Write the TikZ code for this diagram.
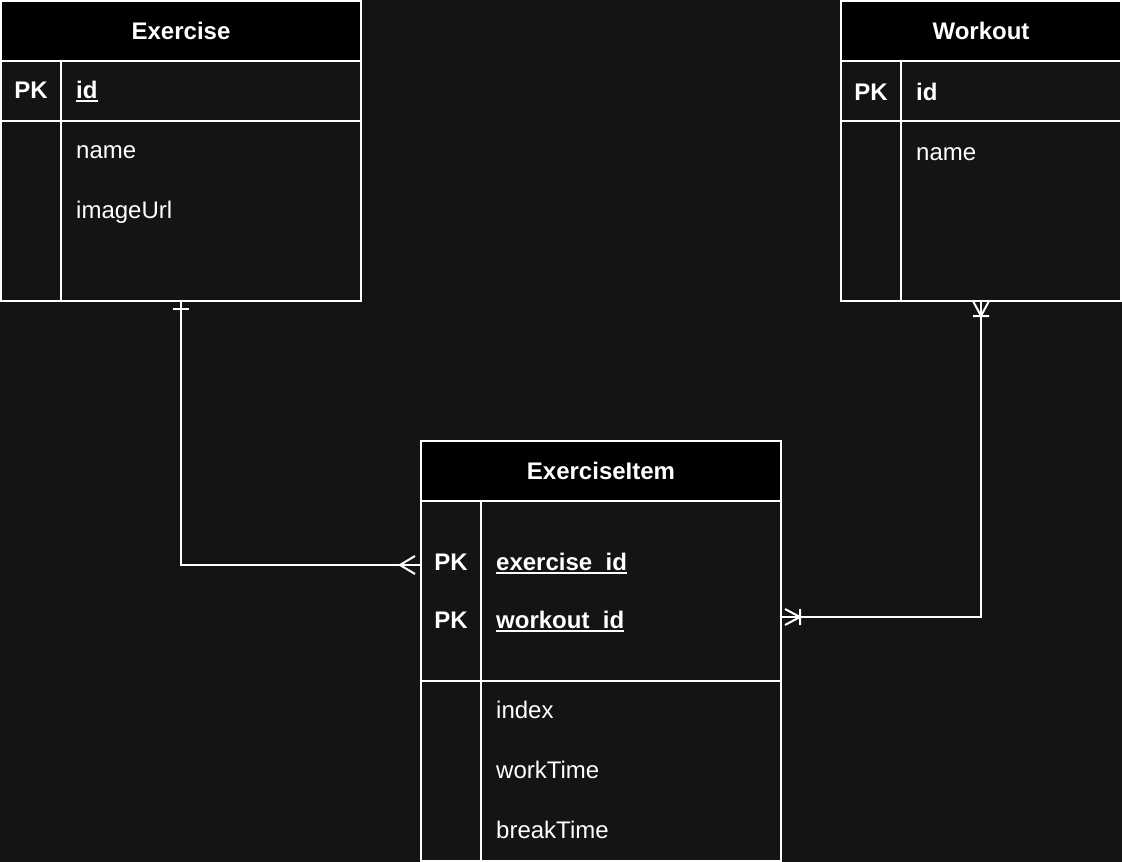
\documentclass[tikz,border=0pt]{standalone}
\usepackage{fontspec}
\setmainfont{Liberation Sans}
\usepackage{tikz}
\usetikzlibrary{positioning,arrows.meta}
\usepackage{xcolor}
\definecolor{bg}{HTML}{141414}
\newcommand{\keyul}[1]{\setbox0\hbox{#1}\rlap{\rule[-3.5pt]{\wd0}{1.8pt}}\box0}

\begin{document}
\begin{tikzpicture}[x=1pt,y=-1pt,
  cell/.style={draw=white,line width=2pt,outer sep=0pt,inner sep=0pt,rectangle},
  head/.style={cell,fill=black,text=white,font=\bfseries\fontsize{24}{29}\selectfont,text height=17pt,text depth=0pt},
  txt/.style={text=white,inner sep=0pt,text height=20pt,text depth=4pt,font=\fontsize{24}{29}\selectfont},
  pk/.style={txt,font=\bfseries\fontsize{24}{29}\selectfont},
  fld/.style={txt,anchor=west},
  rel/.style={draw=white,line width=2pt}]
\fill[bg] (0,0) rectangle (1122,862);
\useasboundingbox (0,0) rectangle (1122,862);
% Exercise
\node[cell,minimum width=360pt,minimum height=300pt] (exercise) at (181,151) {};
\node[head,minimum width=360pt,minimum height=60pt] (exHead) at (181,31) {Exercise};
\node[cell,minimum width=360pt,minimum height=60pt] (exKeys) at (181,91) {};
\node[cell,minimum width=60pt,minimum height=60pt] (exPkCol) at (31,91) {};
\node[cell,minimum width=60pt,minimum height=180pt] (exCol) at (31,211) {};
\node[pk] (exPk) at (31,90) {PK};
\node[pk,anchor=west] (exId) at (76,90) {\keyul{id}};
\node[fld] (exName) at (76,150) {name};
\node[fld] (exImg) at (76,210) {imageUrl};
% Workout
\node[cell,minimum width=280pt,minimum height=300pt] (workout) at (981,151) {};
\node[head,minimum width=280pt,minimum height=60pt] (wkHead) at (981,31) {Workout};
\node[cell,minimum width=280pt,minimum height=60pt] (wkKeys) at (981,91) {};
\node[cell,minimum width=60pt,minimum height=60pt] (wkPkCol) at (871,91) {};
\node[cell,minimum width=60pt,minimum height=180pt] (wkCol) at (871,211) {};
\node[pk] (wkPk) at (871,92) {PK};
\node[pk,anchor=west] (wkId) at (916,92) {id};
\node[fld] (wkName) at (916,152) {name};
% ExerciseItem
\node[cell,minimum width=360pt,minimum height=420pt] (item) at (601,651) {};
\node[head,minimum width=360pt,minimum height=60pt] (itHead) at (601,471) {ExerciseItem};
\node[cell,minimum width=360pt,minimum height=180pt] (itKeys) at (601,591) {};
\node[cell,minimum width=60pt,minimum height=180pt] (itPkCol) at (451,591) {};
\node[cell,minimum width=60pt,minimum height=180pt] (itCol) at (451,771) {};
\node[pk] (itPkA) at (451,562) {PK};
\node[pk,anchor=west] (itExId) at (496,562) {\keyul{exercise\_id}};
\node[pk] (itPkB) at (451,620) {PK};
\node[pk,anchor=west] (itWkId) at (496,620) {\keyul{workout\_id}};
\node[fld] (itIndex) at (496,710) {index};
\node[fld] (itWork) at (496,770) {workTime};
\node[fld] (itBreak) at (496,830) {breakTime};
% relations
\path (item.west |- itExId) ++(0,3) coordinate (exLink);
\path (item.east |- itWkId) ++(0,-3) coordinate (wkLink);
\draw[rel] (exercise.south) |- (exLink);
\draw[rel] ([yshift=-8pt]exercise.south) ++(-8,0) -- ++(16,0);
\draw[rel] (exLink) ++(-21,0) -- ++(15,-9) ++(-15,9) -- ++(15,9);
\draw[rel] (workout.south) |- (wkLink);
\draw[rel] (workout.south) ++(-8,0) -- ++(8,15) -- ++(8,-15) (workout.south) ++(-8,15) -- ++(16,0);
\draw[rel] (wkLink) ++(4,-8) -- ++(15,8) -- ++(-15,8) (wkLink) ++(19,-8) -- ++(0,16);
\end{tikzpicture}
\end{document}
